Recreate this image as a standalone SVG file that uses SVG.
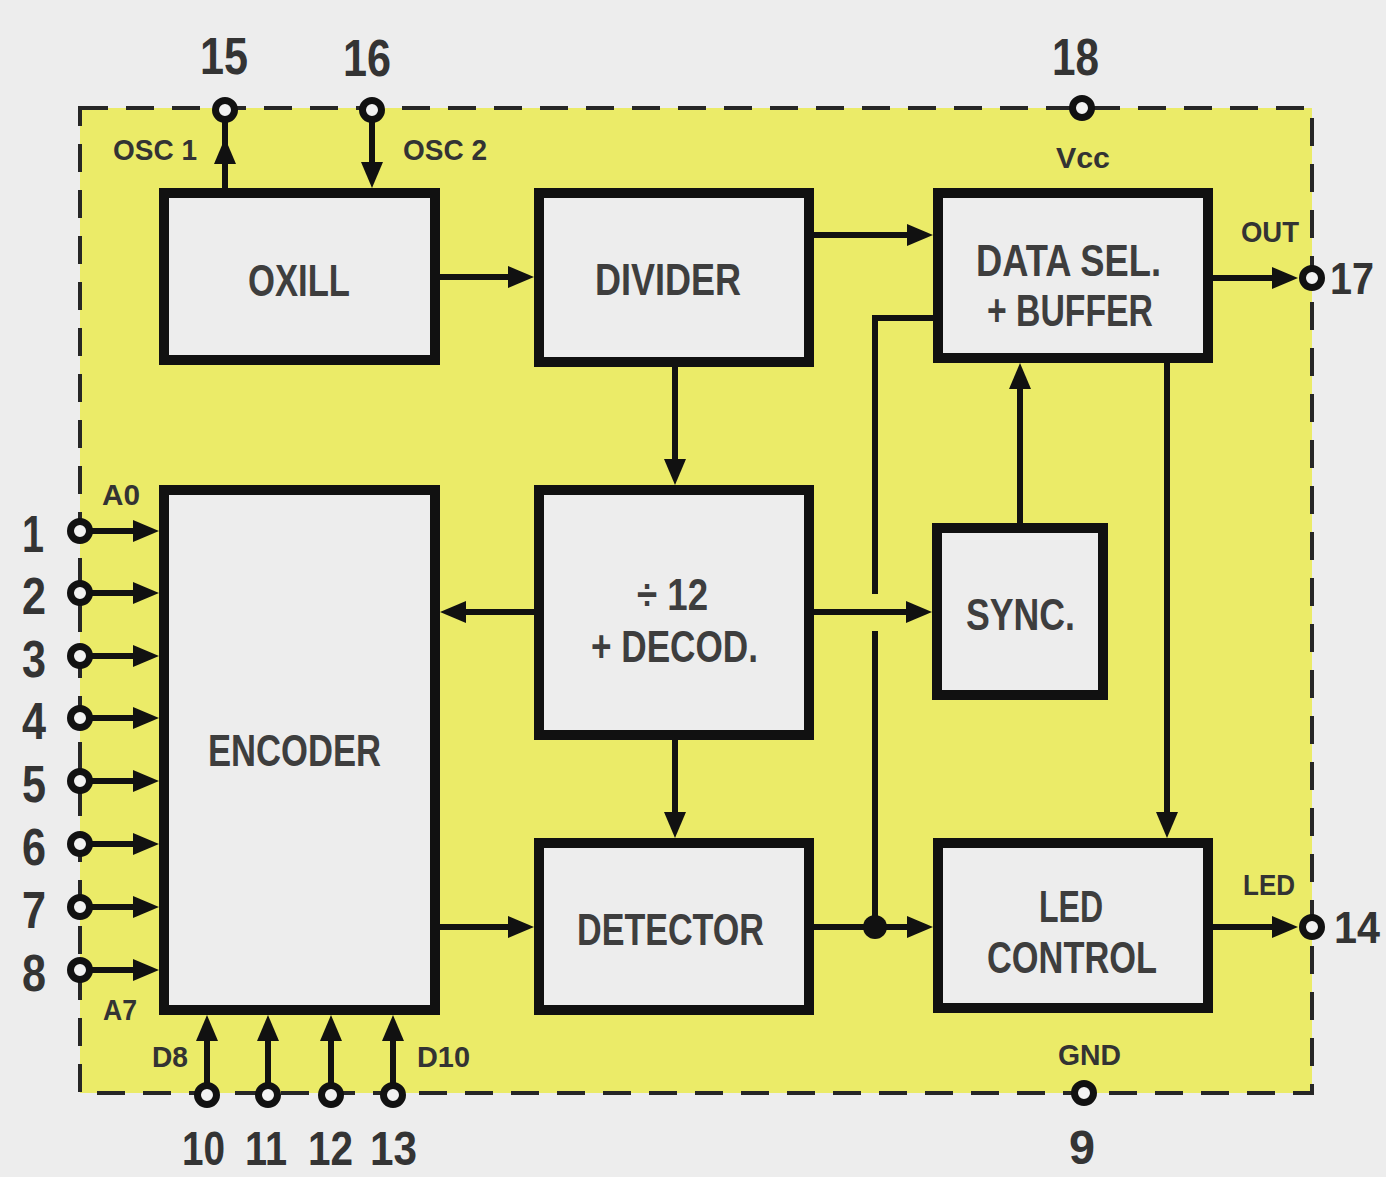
<svg xmlns="http://www.w3.org/2000/svg" width="1386" height="1177" viewBox="0 0 1386 1177">
<defs>
<style>
.bg{fill:#ededed}
.chip{fill:#ebeb68;stroke:#262626;stroke-width:4;stroke-dasharray:28 18}
.box{fill:#ededed;stroke:#111;stroke-width:10}
.wire{fill:none;stroke:#111;stroke-width:6}
.arr{marker-end:url(#ah)}
.pin{fill:#f2f2f2;stroke:#111;stroke-width:7}
.t{font-family:"Liberation Sans",Arial,sans-serif;font-weight:bold;fill:#3e3e3e}
.big{font-size:44px}
.sm{font-size:30px;fill:#333}
.num{font-size:52px;fill:#343434}
.nb{font-size:48px}
.nr{font-size:44px}
</style>
<marker id="ah" markerUnits="userSpaceOnUse" markerWidth="28" markerHeight="24" refX="18" refY="11" orient="auto">
<path d="M0,0 L26,11 L0,22 Z" fill="#111"/>
</marker>
</defs>
<rect class="bg" x="0" y="0" width="1386" height="1177"/>
<rect class="chip" x="80" y="108" width="1232" height="985"/>

<g id="connectors">
<path class="wire arr" d="M225,188 V146"/>
<path class="wire" d="M225,146 V122"/>
<path class="wire arr" d="M372,122 V180"/>
<path class="wire arr" d="M440,277 H526"/>
<path class="wire arr" d="M814,235 H925"/>
<path class="wire arr" d="M1213,278 H1290"/>
<path class="wire arr" d="M675,367 V477"/>
<path class="wire arr" d="M534,612 H448"/>
<path class="wire arr" d="M814,612 H924"/>
<path class="wire" d="M875,927 V631 M875,594 V318 H933"/>
<path class="wire arr" d="M1020,523 V371"/>
<path class="wire arr" d="M1167,363 V830"/>
<path class="wire arr" d="M675,740 V830"/>
<path class="wire arr" d="M440,927 H526"/>
<path class="wire arr" d="M814,927 H925"/>
<path class="wire arr" d="M1213,927 H1290"/>
<circle cx="875" cy="927" r="12" fill="#111"/>
<path class="wire arr" d="M92,531 H151"/>
<path class="wire arr" d="M92,593 H151"/>
<path class="wire arr" d="M92,656 H151"/>
<path class="wire arr" d="M92,718 H151"/>
<path class="wire arr" d="M92,781 H151"/>
<path class="wire arr" d="M92,844 H151"/>
<path class="wire arr" d="M92,907 H151"/>
<path class="wire arr" d="M92,970 H151"/>
<path class="wire arr" d="M207,1083 V1023"/>
<path class="wire arr" d="M268,1083 V1023"/>
<path class="wire arr" d="M331,1083 V1023"/>
<path class="wire arr" d="M393,1083 V1023"/>
</g>

<g id="oxill">
<rect class="box" x="164" y="193" width="271" height="167"/>
<text class="t big" x="248" y="296" textLength="102" lengthAdjust="spacingAndGlyphs">OXILL</text>
</g>
<g id="divider">
<rect class="box" x="539" y="193" width="270" height="169"/>
<text class="t big" x="595" y="295" textLength="146" lengthAdjust="spacingAndGlyphs">DIVIDER</text>
</g>
<g id="datasel">
<rect class="box" x="938" y="193" width="270" height="165"/>
<text class="t big" x="976" y="276" textLength="185" lengthAdjust="spacingAndGlyphs">DATA SEL.</text>
<text class="t big" x="987" y="326" textLength="166" lengthAdjust="spacingAndGlyphs">+ BUFFER</text>
</g>
<g id="encoder">
<rect class="box" x="164" y="490" width="271" height="520"/>
<text class="t big" x="208" y="766" textLength="173" lengthAdjust="spacingAndGlyphs">ENCODER</text>
</g>
<g id="decod">
<rect class="box" x="539" y="490" width="270" height="245"/>
<text class="t big" x="637" y="610" textLength="71" lengthAdjust="spacingAndGlyphs">÷ 12</text>
<text class="t big" x="591" y="662" textLength="167" lengthAdjust="spacingAndGlyphs">+ DECOD.</text>
</g>
<g id="sync">
<rect class="box" x="937" y="528" width="166" height="167"/>
<text class="t big" x="966" y="630" textLength="109" lengthAdjust="spacingAndGlyphs">SYNC.</text>
</g>
<g id="detector">
<rect class="box" x="539" y="843" width="270" height="167"/>
<text class="t big" x="577" y="945" textLength="187" lengthAdjust="spacingAndGlyphs">DETECTOR</text>
</g>
<g id="ledcontrol">
<rect class="box" x="938" y="843" width="270" height="165"/>
<text class="t big" x="1039" y="922" textLength="64" lengthAdjust="spacingAndGlyphs">LED</text>
<text class="t big" x="987" y="973" textLength="170" lengthAdjust="spacingAndGlyphs">CONTROL</text>
</g>

<g id="pins">
<circle class="pin" cx="225" cy="110" r="9.5"/>
<circle class="pin" cx="372" cy="110" r="9.5"/>
<circle class="pin" cx="1082" cy="108" r="9.5"/>
<circle class="pin" cx="1312" cy="278" r="9.5"/>
<circle class="pin" cx="1312" cy="927" r="9.5"/>
<circle class="pin" cx="1084" cy="1093" r="9.5"/>
<circle class="pin" cx="80" cy="531" r="9.5"/>
<circle class="pin" cx="80" cy="593" r="9.5"/>
<circle class="pin" cx="80" cy="656" r="9.5"/>
<circle class="pin" cx="80" cy="718" r="9.5"/>
<circle class="pin" cx="80" cy="781" r="9.5"/>
<circle class="pin" cx="80" cy="844" r="9.5"/>
<circle class="pin" cx="80" cy="907" r="9.5"/>
<circle class="pin" cx="80" cy="970" r="9.5"/>
<circle class="pin" cx="207" cy="1095" r="9.5"/>
<circle class="pin" cx="268" cy="1095" r="9.5"/>
<circle class="pin" cx="331" cy="1095" r="9.5"/>
<circle class="pin" cx="393" cy="1095" r="9.5"/>
</g>

<g id="labels">
<text class="t sm" x="113" y="160" textLength="84" lengthAdjust="spacingAndGlyphs">OSC 1</text>
<text class="t sm" x="403" y="160" textLength="84" lengthAdjust="spacingAndGlyphs">OSC 2</text>
<text class="t sm" x="1056" y="168" textLength="54" lengthAdjust="spacingAndGlyphs">Vcc</text>
<text class="t sm" x="1241" y="242" textLength="58" lengthAdjust="spacingAndGlyphs">OUT</text>
<text class="t sm" x="1243" y="895" textLength="52" lengthAdjust="spacingAndGlyphs">LED</text>
<text class="t sm" x="1058" y="1065" textLength="63" lengthAdjust="spacingAndGlyphs">GND</text>
<text class="t sm" x="102" y="505" textLength="38" lengthAdjust="spacingAndGlyphs">A0</text>
<text class="t sm" x="103" y="1020" textLength="34" lengthAdjust="spacingAndGlyphs">A7</text>
<text class="t sm" x="152" y="1067" textLength="36" lengthAdjust="spacingAndGlyphs">D8</text>
<text class="t sm" x="417" y="1067" textLength="53" lengthAdjust="spacingAndGlyphs">D10</text>
</g>

<g id="numbers">
<text class="t num" x="200" y="74" textLength="48" lengthAdjust="spacingAndGlyphs">15</text>
<text class="t num" x="343" y="76" textLength="48" lengthAdjust="spacingAndGlyphs">16</text>
<text class="t num" x="1052" y="75" textLength="47" lengthAdjust="spacingAndGlyphs">18</text>
<text class="t num nr" x="1330" y="294" textLength="44" lengthAdjust="spacingAndGlyphs">17</text>
<text class="t num nr" x="1334" y="943" textLength="46" lengthAdjust="spacingAndGlyphs">14</text>
<text class="t num nb" x="1069" y="1164" textLength="26" lengthAdjust="spacingAndGlyphs">9</text>
<text class="t num nb" x="182" y="1165" textLength="43" lengthAdjust="spacingAndGlyphs">10</text>
<text class="t num nb" x="245" y="1165" textLength="42" lengthAdjust="spacingAndGlyphs">11</text>
<text class="t num nb" x="308" y="1165" textLength="45" lengthAdjust="spacingAndGlyphs">12</text>
<text class="t num nb" x="370" y="1165" textLength="47" lengthAdjust="spacingAndGlyphs">13</text>
<text class="t num" x="22" y="552" textLength="22" lengthAdjust="spacingAndGlyphs">1</text>
<text class="t num" x="22" y="614" textLength="24" lengthAdjust="spacingAndGlyphs">2</text>
<text class="t num" x="22" y="677" textLength="24" lengthAdjust="spacingAndGlyphs">3</text>
<text class="t num" x="22" y="739" textLength="24" lengthAdjust="spacingAndGlyphs">4</text>
<text class="t num" x="22" y="802" textLength="24" lengthAdjust="spacingAndGlyphs">5</text>
<text class="t num" x="22" y="865" textLength="24" lengthAdjust="spacingAndGlyphs">6</text>
<text class="t num" x="22" y="928" textLength="24" lengthAdjust="spacingAndGlyphs">7</text>
<text class="t num" x="22" y="991" textLength="24" lengthAdjust="spacingAndGlyphs">8</text>
</g>
</svg>
